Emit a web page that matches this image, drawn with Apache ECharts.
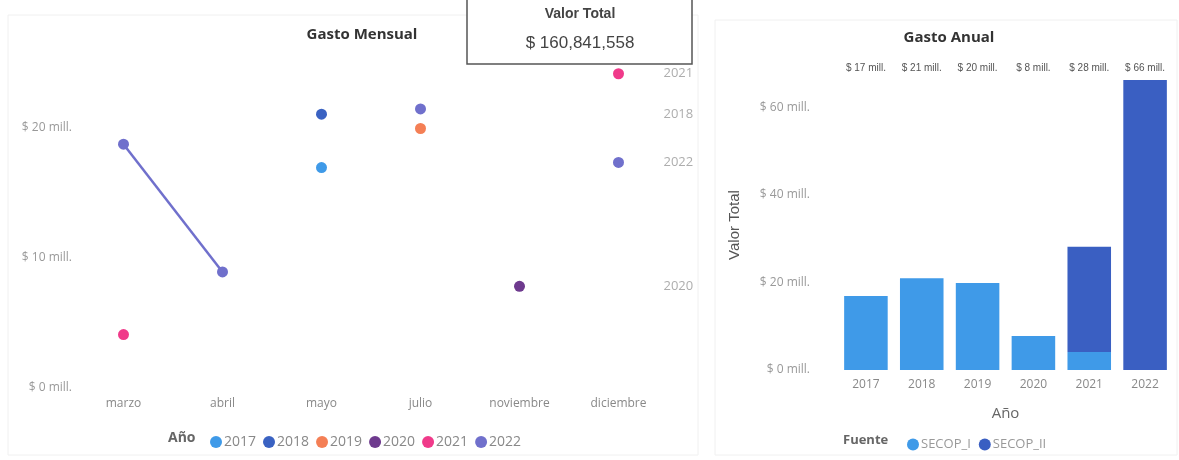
<!DOCTYPE html>
<html>
<head>
<meta charset="utf-8">
<title>Gasto</title>
<script src="https://cdn.jsdelivr.net/npm/echarts@6/dist/echarts.min.js"></script>
<style>
    html, body { margin: 0; padding: 0; background: #fff; }
    #root { width: 1179px; height: 460px; }
</style>
</head>
<body>
<div id="root"></div>
<script>
(function () {
    'use strict';

    // Gasto mensual (millones) por año
    var meses = ['marzo', 'abril', 'mayo', 'julio', 'noviembre', 'diciembre'];
    var anios = ['2017', '2018', '2019', '2020', '2021', '2022'];
    var gasto2017 = [null, null, 16.9, null, null, null];
    var gasto2018 = [null, null, 21.0, null, null, null];
    var gasto2019 = [null, null, null, 19.9, null, null];
    var gasto2020 = [null, null, null, null, 7.8, null];
    var gasto2021 = [4.1, null, null, null, null, 24.1];
    var gasto2022 = [18.7, 8.9, null, 21.4, null, 17.3];
    var etiquetasFin = ['2021', '2018', '2022', '2020'];

    // Gasto anual (millones) por fuente
    var secopI = [16.9, 21.0, 19.9, 7.8, 4.1, 0];
    var secopII = [0, 0, 0, 0, 24.1, 66.3];
    var valorTotal = 160841558;

    var coloresAnio = ['#3f9ae8', '#3a62c2', '#f47f55', '#6e3a8e', '#f03a8a', '#7070cc'];
    var coloresFuente = ['#3f9ae8', '#3a5fc2'];
    var fuente = '"Open Sans", sans-serif';

    var gastoPorAnio = [gasto2017, gasto2018, gasto2019, gasto2020, gasto2021, gasto2022];

    var series = [];
    for (var i = 0; i < anios.length; i++) {
        series.push({
            name: anios[i],
            type: 'line',
            xAxisIndex: 0,
            yAxisIndex: 0,
            data: gastoPorAnio[i],
            connectNulls: false,
            symbol: 'circle',
            symbolSize: 11,
            itemStyle: { color: coloresAnio[i] },
            lineStyle: { width: 2.5, color: coloresAnio[i] }
        });
    }

    // etiquetas de serie a la derecha (último valor de cada año)
    var finData = [];
    for (var k = 0; k < etiquetasFin.length; k++) {
        var vals = gastoPorAnio[anios.indexOf(etiquetasFin[k])];
        var ultimo = null;
        for (var m = vals.length - 1; m >= 0; m--) {
            if (vals[m] !== null) { ultimo = vals[m]; break; }
        }
        finData.push([meses[meses.length - 1], ultimo, etiquetasFin[k]]);
    }
    series.push({
        name: 'fin',
        type: 'scatter',
        xAxisIndex: 0,
        yAxisIndex: 0,
        data: finData,
        symbolSize: 0,
        silent: true,
        label: {
            show: true,
            position: 'right',
            distance: 45,
            formatter: function (p) { return p.value[2]; },
            color: '#999',
            fontFamily: fuente,
            fontSize: 13
        }
    });

    var totales = [];
    for (var j = 0; j < anios.length; j++) {
        totales.push('$ ' + Math.round(secopI[j] + secopII[j]) + ' mill.');
    }

    series.push({
        name: 'SECOP_I',
        type: 'bar',
        stack: 'fuente',
        xAxisIndex: 1,
        yAxisIndex: 1,
        data: secopI,
        barCategoryGap: '22%',
        itemStyle: { color: coloresFuente[0] }
    });
    series.push({
        name: 'SECOP_II',
        type: 'bar',
        stack: 'fuente',
        xAxisIndex: 1,
        yAxisIndex: 1,
        data: secopII,
        barCategoryGap: '22%',
        itemStyle: { color: coloresFuente[1] }
    });

    var millFormatter = function (v) { return '$ ' + v + ' mill.'; };

    var myChart = echarts.init(document.getElementById('root'), null, { renderer: 'canvas' });

    myChart.setOption({
        animation: false,
        textStyle: { fontFamily: fuente },
        title: [{
            text: 'Gasto Mensual',
            left: 357,
            top: 22,
            textAlign: 'center',
            textStyle: { fontSize: 15, fontWeight: 'bold', color: '#333', fontFamily: fuente }
        }, {
            text: 'Gasto Anual',
            left: 944,
            top: 25,
            textAlign: 'center',
            textStyle: { fontSize: 15, fontWeight: 'bold', color: '#333', fontFamily: fuente }
        }],
        legend: [{
            data: anios,
            left: 205,
            top: 430,
            icon: 'circle',
            itemWidth: 12,
            itemHeight: 12,
            itemGap: 7,
            textStyle: { fontSize: 14, color: '#888', fontFamily: fuente, padding: [0, 0, 0, -3] }
        }, {
            data: ['SECOP_I', 'SECOP_II'],
            left: 902,
            top: 433,
            icon: 'circle',
            itemWidth: 12,
            itemHeight: 12,
            itemGap: 8,
            textStyle: { fontSize: 13, color: '#999', fontFamily: fuente, padding: [0, 0, 0, -3] }
        }],
        grid: [{
            left: 74,
            right: 511,
            top: 62,
            bottom: 72
        }, {
            left: 838,
            right: 6,
            top: 80,
            bottom: 90
        }],
        xAxis: [{
            type: 'category',
            gridIndex: 0,
            data: meses,
            axisLine: { show: false },
            axisTick: { show: false },
            axisLabel: { color: '#888', fontSize: 12, margin: 10 }
        }, {
            type: 'category',
            gridIndex: 1,
            data: anios,
            name: 'Año',
            nameLocation: 'middle',
            nameGap: 36,
            nameTextStyle: { color: '#666', fontSize: 15, fontFamily: fuente },
            axisLine: { show: false },
            axisTick: { show: false },
            axisLabel: { color: '#888', fontSize: 12, margin: 9 }
        }, {
            type: 'category',
            gridIndex: 1,
            position: 'top',
            data: totales,
            axisLine: { show: false },
            axisTick: { show: false },
            axisLabel: { color: '#555', fontSize: 10, margin: 7, fontFamily: '"Liberation Sans", sans-serif' }
        }],
        yAxis: [{
            type: 'value',
            gridIndex: 0,
            min: 0,
            max: 25,
            interval: 10,
            splitLine: { show: false },
            axisLine: { show: false },
            axisTick: { show: false },
            axisLabel: { color: '#999', fontSize: 12, margin: 2, showMaxLabel: false, formatter: millFormatter }
        }, {
            type: 'value',
            gridIndex: 1,
            min: 0,
            max: 'dataMax',
            interval: 20,
            name: 'Valor Total',
            nameLocation: 'middle',
            nameGap: 96,
            nameTextStyle: { color: '#555', fontSize: 15, fontFamily: '"Liberation Sans", sans-serif' },
            splitLine: { show: false },
            axisLine: { show: false },
            axisTick: { show: false },
            axisLabel: { color: '#999', fontSize: 12, margin: 28, showMaxLabel: false, formatter: millFormatter }
        }],
        graphic: [{
            type: 'rect',
            shape: { x: 8, y: 15, width: 690, height: 440 },
            style: { fill: 'none', stroke: '#f0f0f0', lineWidth: 1 },
            silent: true,
            z: 0
        }, {
            type: 'rect',
            shape: { x: 715, y: 20, width: 462, height: 435 },
            style: { fill: 'none', stroke: '#f0f0f0', lineWidth: 1 },
            silent: true,
            z: 0
        }, {
            type: 'text',
            left: 168,
            top: 431,
            style: { text: 'Año', fontSize: 14, fontWeight: 'bold', fill: '#666', fontFamily: fuente }
        }, {
            type: 'text',
            left: 843,
            top: 434,
            style: { text: 'Fuente', fontSize: 13, fontWeight: 'bold', fill: '#666', fontFamily: fuente }
        }, {
            type: 'group',
            z: 100,
            children: [{
                type: 'rect',
                shape: { x: 467, y: -3, width: 225, height: 67 },
                style: { fill: '#fff', stroke: '#555', lineWidth: 1.5 },
                z: 100
            }, {
                type: 'text',
                x: 580,
                y: 14,
                style: {
                    text: 'Valor Total',
                    fontSize: 14,
                    fontWeight: 'bold',
                    fill: '#444',
                    align: 'center',
                    verticalAlign: 'middle',
                    fontFamily: '"Liberation Sans", sans-serif'
                },
                z: 101
            }, {
                type: 'text',
                x: 580,
                y: 43,
                style: {
                    text: '$ ' + valorTotal.toLocaleString('en-US'),
                    fontSize: 17,
                    fill: '#444',
                    align: 'center',
                    verticalAlign: 'middle',
                    fontFamily: '"Liberation Sans", sans-serif'
                },
                z: 101
            }]
        }],
        series: series
    });
}());
</script>
</body>
</html>
